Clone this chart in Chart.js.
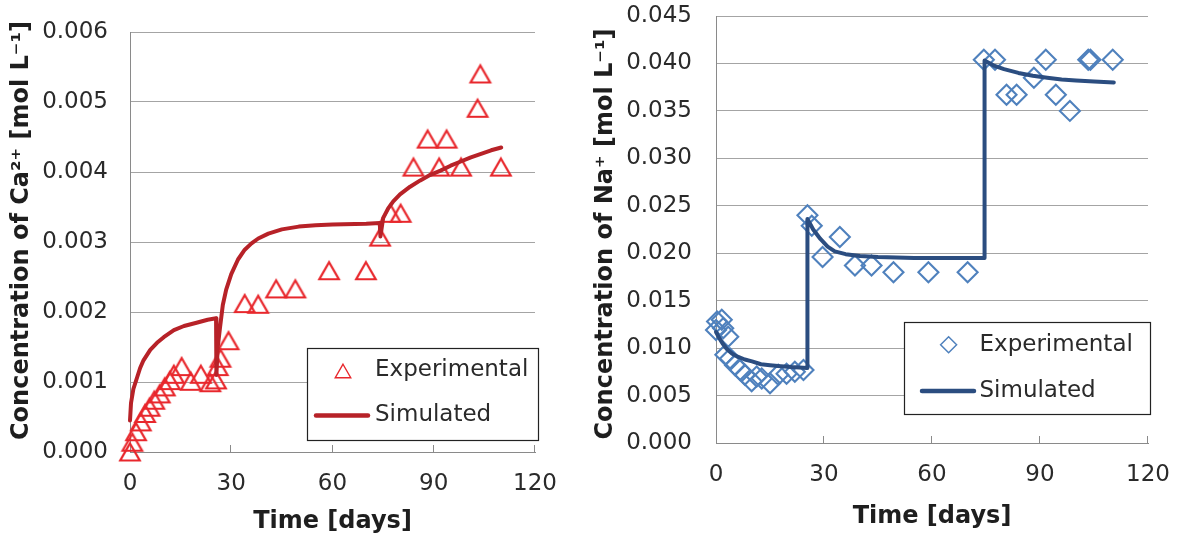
<!DOCTYPE html>
<html><head><meta charset="utf-8">
<script src="https://cdn.jsdelivr.net/npm/chart.js@4/dist/chart.umd.min.js"></script>
<style>
html,body{margin:0;padding:0;background:#fff;}
#wrap{position:relative;width:1177px;height:542px;overflow:hidden;background:#fff;}
.box{position:absolute;top:0;height:542px;}
canvas{display:block;}
</style></head><body>
<div id="wrap">
<div class="box" style="left:0;width:585px"><canvas id="c1" width="585" height="542"></canvas></div>
<div class="box" style="left:585px;width:592px"><canvas id="c2" width="592" height="542"></canvas></div>
</div>
<script>
// ---------- data ----------
const SERIES_NAMES = ['Experimental', 'Simulated'];
const X_TITLE = 'Time [days]';
const CA_Y_TITLE = 'Concentration of Ca\u00B2\u207A [mol L\u207B\u00B9]';
const NA_Y_TITLE = 'Concentration of Na\u207A [mol L\u207B\u00B9]';
const X_TICKS = [0, 30, 60, 90, 120];
const CA_Y_TICKS = [0, 0.001, 0.002, 0.003, 0.004, 0.005, 0.006];
const NA_Y_TICKS = [0, 0.005, 0.010, 0.015, 0.020, 0.025, 0.030, 0.035, 0.040, 0.045];

const CA_EXP_DAYS = [0, 0.7, 1.8, 3.2, 4.5, 5.8, 7.2, 8.8, 10.3, 11.8, 13, 15.3, 18, 21, 23.8, 25.5, 26, 26.8, 29.2, 34, 38, 43.3, 49, 59, 69.9, 74.1, 77.2, 80.2, 84, 88.2, 91.6, 93.8, 98.1, 103, 103.8, 109.9];
const CA_EXP_VALUES = [0, 0.00014, 0.00029, 0.00043, 0.00055, 0.00064, 0.00074, 0.00083, 0.00093, 0.00102, 0.00111, 0.00122, 0.00101, 0.00111, 0.00099, 0.00103, 0.00122, 0.00134, 0.00159, 0.00212, 0.00211, 0.00233, 0.00233, 0.00259, 0.00259, 0.00307, 0.00341, 0.00341, 0.00407, 0.00447, 0.00407, 0.00447, 0.00407, 0.00491, 0.0054, 0.00407];

const CA_SIM_DAYS = [0, 0.3, 1, 2, 3, 4, 6, 8, 10, 13, 16, 20, 23, 25.5, 25.6, 26, 26.7, 27.5, 28.5, 30, 32, 34, 36, 38, 41, 45, 50, 55, 60, 70, 74, 74.2, 75, 76.5, 78, 80, 83, 86, 89, 92, 95, 98, 101, 104, 107, 110];
const CA_SIM_VALUES = [0.00045, 0.0007, 0.0009, 0.00105, 0.0012, 0.00131, 0.00146, 0.00156, 0.00164, 0.00174, 0.0018, 0.00185, 0.00189, 0.00191, 0.0011, 0.0015, 0.00179, 0.0021, 0.00232, 0.00254, 0.00275, 0.00289, 0.00298, 0.00305, 0.00312, 0.00318, 0.00322, 0.00324, 0.00325, 0.00326, 0.00327, 0.00308, 0.00334, 0.00348, 0.00358, 0.00368, 0.00379, 0.00388, 0.00396, 0.00402, 0.00409, 0.00415, 0.00421, 0.00426, 0.00431, 0.00435];

const NA_EXP_DAYS = [0, 0.3, 1.6, 2, 3.4, 2.6, 3.9, 5.3, 6.7, 8, 9.9, 11.3, 12.7, 15, 17.3, 19.6, 21.9, 24.3, 25.4, 26.6, 29.6, 34.4, 38.6, 43.2, 49.3, 59, 69.9, 74.4, 77.5, 80.7, 83.5, 88.3, 91.6, 94.4, 98.3, 103.4, 104, 110.2];
const NA_EXP_VALUES = [0.0119, 0.0128, 0.013, 0.0121, 0.0112, 0.0093, 0.0089, 0.0082, 0.0077, 0.0072, 0.0065, 0.007, 0.0068, 0.0063, 0.0072, 0.0073, 0.0075, 0.0077, 0.024, 0.0229, 0.0196, 0.0217, 0.0187, 0.0187, 0.018, 0.018, 0.018, 0.0404, 0.0404, 0.0367, 0.0367, 0.0385, 0.0404, 0.0367, 0.035, 0.0404, 0.0404, 0.0404];

const NA_SIM_DAYS = [0, 1, 2, 3, 4.5, 6, 8, 10, 12.5, 15, 18, 21, 25.3, 25.4, 27, 29, 31, 33, 36, 40, 45, 55, 65, 74.5, 74.6, 77, 80, 84, 88, 92, 96, 100, 105, 110.5];
const NA_SIM_VALUES = [0.0117, 0.011, 0.0104, 0.0099, 0.0094, 0.0091, 0.0088, 0.0086, 0.0083, 0.0082, 0.0081, 0.008, 0.0079, 0.0236, 0.0225, 0.0215, 0.0207, 0.0202, 0.0199, 0.0197, 0.0196, 0.0195, 0.0195, 0.0195, 0.0403, 0.0398, 0.0394, 0.039, 0.0387, 0.0385, 0.0383, 0.0382, 0.0381, 0.038];

// ---------- styles ----------
const FONT = '"DejaVu Sans", sans-serif';
const GRID = '#a4a4a4';
const AXIS = '#8a8a8a';
const TICK_COLOR = '#2a2a2a';
const TITLE_COLOR = '#1e1e1e';
Chart.defaults.font.family = FONT;

function triangleMarker(w, h, lw, color) {
  const c = document.createElement('canvas');
  const pad = Math.ceil(lw) + 1;
  c.width = Math.round(w + 2 * pad);
  c.height = Math.round(h + 2 * pad);
  const g = c.getContext('2d');
  const cx = c.width / 2, cy = c.height / 2;
  g.beginPath();
  g.moveTo(cx, cy - h / 2);
  g.lineTo(cx + w / 2, cy + h / 2);
  g.lineTo(cx - w / 2, cy + h / 2);
  g.closePath();
  g.lineWidth = lw;
  g.strokeStyle = color;
  g.lineJoin = 'miter';
  g.stroke();
  return c;
}

const RED_MARK = '#e8272c';
const RED_LINE = '#b72228';
const BLUE_MARK = '#4f81bd';
const BLUE_LINE = '#2b4d80';
const TRI = triangleMarker(19.5, 17, 2.2, RED_MARK);
const TRI_LEG = triangleMarker(15.5, 13.5, 1.4, RED_MARK);

function pts(xs, ys) { return xs.map((x, i) => ({ x: x, y: ys[i] })); }

const decorPlugin = {
  id: 'decor',
  afterDraw(chart, args, o) {
    const ctx = chart.ctx, xs = chart.scales.x, ys = chart.scales.y;
    ctx.save();
    // inward tick marks on x axis
    ctx.strokeStyle = AXIS; ctx.lineWidth = 1;
    const yb = Math.round(ys.getPixelForValue(0));
    X_TICKS.forEach(v => {
      if (v === 0) return;
      const px = Math.round(xs.getPixelForValue(v)) - 0.5;
      ctx.beginPath(); ctx.moveTo(px, yb); ctx.lineTo(px, yb - 7); ctx.stroke();
    });
    // legend box
    const L = o.legend;
    ctx.fillStyle = '#ffffff';
    ctx.fillRect(L.x, L.y, L.w, L.h);
    ctx.strokeStyle = '#222'; ctx.lineWidth = 1.2;
    ctx.strokeRect(L.x + 0.5, L.y + 0.5, L.w, L.h);
    // marker
    if (o.markerImg) {
      ctx.drawImage(o.markerImg, Math.round(L.x + L.mx - o.markerImg.width / 2), Math.round(L.y + L.my - o.markerImg.height / 2));
    } else {
      ctx.strokeStyle = o.markerColor; ctx.fillStyle = 'rgba(0,0,0,0)'; ctx.lineWidth = 1.5;
      Chart.helpers.drawPoint(ctx, { pointStyle: 'rectRot', radius: o.markerRadius, borderWidth: 1.5, rotation: 0 }, L.x + L.mx, L.y + L.my);
    }
    ctx.font = '23px ' + FONT; ctx.fillStyle = TICK_COLOR; ctx.textAlign = 'left'; ctx.textBaseline = 'middle';
    ctx.fillText(SERIES_NAMES[0], L.x + L.tx, L.y + L.r1);
    ctx.strokeStyle = o.lineColor; ctx.lineWidth = 4.5; ctx.lineCap = 'round';
    ctx.beginPath(); ctx.moveTo(L.x + L.lx1, L.y + L.r2); ctx.lineTo(L.x + L.lx2, L.y + L.r2); ctx.stroke();
    ctx.fillStyle = TICK_COLOR;
    ctx.fillText(SERIES_NAMES[1], L.x + L.tx, L.y + L.r2);
    // y title
    ctx.translate(o.yTitle.x, o.yTitle.y);
    ctx.rotate(-Math.PI / 2);
    ctx.font = 'bold 24px ' + FONT; ctx.textAlign = 'center'; ctx.textBaseline = 'middle'; ctx.fillStyle = TITLE_COLOR;
    ctx.fillText(o.yTitle.text, 0, 0);
    ctx.restore();
  }
};

function buildChart(id, s) {
  return new Chart(document.getElementById(id), {
    type: 'scatter',
    data: {
      datasets: [
        { label: SERIES_NAMES[1], type: 'line', data: pts(s.simX, s.simY), borderColor: s.lineColor, borderWidth: 4,
          pointRadius: 0, tension: 0, fill: false, order: 0, clip: false, borderJoinStyle: 'round', borderCapStyle: 'round' },
        { label: SERIES_NAMES[0], data: pts(s.expX, s.expY), pointStyle: s.pointStyle, pointRadius: s.pointRadius,
          borderColor: s.markColor, backgroundColor: 'rgba(0,0,0,0)', pointBorderWidth: 2.1, order: 1, clip: false, showLine: false }
      ]
    },
    options: {
      responsive: false, animation: false, devicePixelRatio: 1,
      layout: { padding: s.padding },
      plugins: { legend: { display: false }, tooltip: { enabled: false }, decor: s.decor },
      scales: {
        x: {
          type: 'linear', min: 0, max: 120,
          afterBuildTicks: sc => { sc.ticks = X_TICKS.map(v => ({ value: v })); },
          afterFit: sc => { sc.height = s.xHeight; sc.paddingLeft = 0; sc.paddingRight = 0; },
          grid: { drawOnChartArea: false, drawTicks: false },
          border: { display: true, color: AXIS, width: 1 },
          ticks: { padding: 18, color: TICK_COLOR, font: { size: 23 }, maxRotation: 0, autoSkip: false, callback: v => String(v) },
          title: { display: true, text: X_TITLE, color: TITLE_COLOR, font: { size: 24, weight: 'bold' }, padding: { top: 0, bottom: s.xTitlePad } }
        },
        y: {
          type: 'linear', min: 0, max: s.yMax,
          afterBuildTicks: sc => { sc.ticks = s.yTicks.map(v => ({ value: v })); },
          afterFit: sc => { sc.width = s.yWidth; sc.paddingTop = 0; sc.paddingBottom = 0; },
          grid: { color: GRID, drawTicks: false, lineWidth: 1 },
          border: { display: true, color: AXIS, width: 1 },
          ticks: { padding: s.yTickPad, color: TICK_COLOR, font: { size: 23 }, callback: v => Number(v).toFixed(3) },
          title: { display: false }
        }
      }
    },
    plugins: [decorPlugin]
  });
}

buildChart('c1', {
  simX: CA_SIM_DAYS, simY: CA_SIM_VALUES, expX: CA_EXP_DAYS, expY: CA_EXP_VALUES,
  lineColor: RED_LINE, markColor: RED_MARK, pointStyle: TRI, pointRadius: 10,
  padding: { left: 0, top: 32, right: 50, bottom: 0 }, yWidth: 130, xHeight: 90,
  yMax: 0.006, yTicks: CA_Y_TICKS, yTickPad: 22, xTitlePad: 5.6,
  decor: {
    legend: { x: 307, y: 348, w: 231, h: 92, mx: 36, my: 22.5, tx: 68, r1: 22, r2: 67.5, lx1: 9, lx2: 61 },
    markerImg: TRI_LEG, lineColor: RED_LINE,
    yTitle: { x: 21.7, y: 230.5, text: CA_Y_TITLE }
  }
});

buildChart('c2', {
  simX: NA_SIM_DAYS, simY: NA_SIM_VALUES, expX: NA_EXP_DAYS, expY: NA_EXP_VALUES,
  lineColor: BLUE_LINE, markColor: BLUE_MARK, pointStyle: 'rectRot', pointRadius: 10,
  padding: { left: 0, top: 16, right: 29, bottom: 0 }, yWidth: 131, xHeight: 99,
  yMax: 0.045, yTicks: NA_Y_TICKS, yTickPad: 24, xTitlePad: 10.6,
  decor: {
    legend: { x: 319, y: 322, w: 246, h: 92, mx: 44.6, my: 22.8, tx: 75.5, r1: 22.8, r2: 69, lx1: 18, lx2: 70 },
    markerImg: null, markerColor: BLUE_MARK, markerRadius: 8, lineColor: BLUE_LINE,
    yTitle: { x: 21, y: 234, text: NA_Y_TITLE }
  }
});
</script>
</body></html>
